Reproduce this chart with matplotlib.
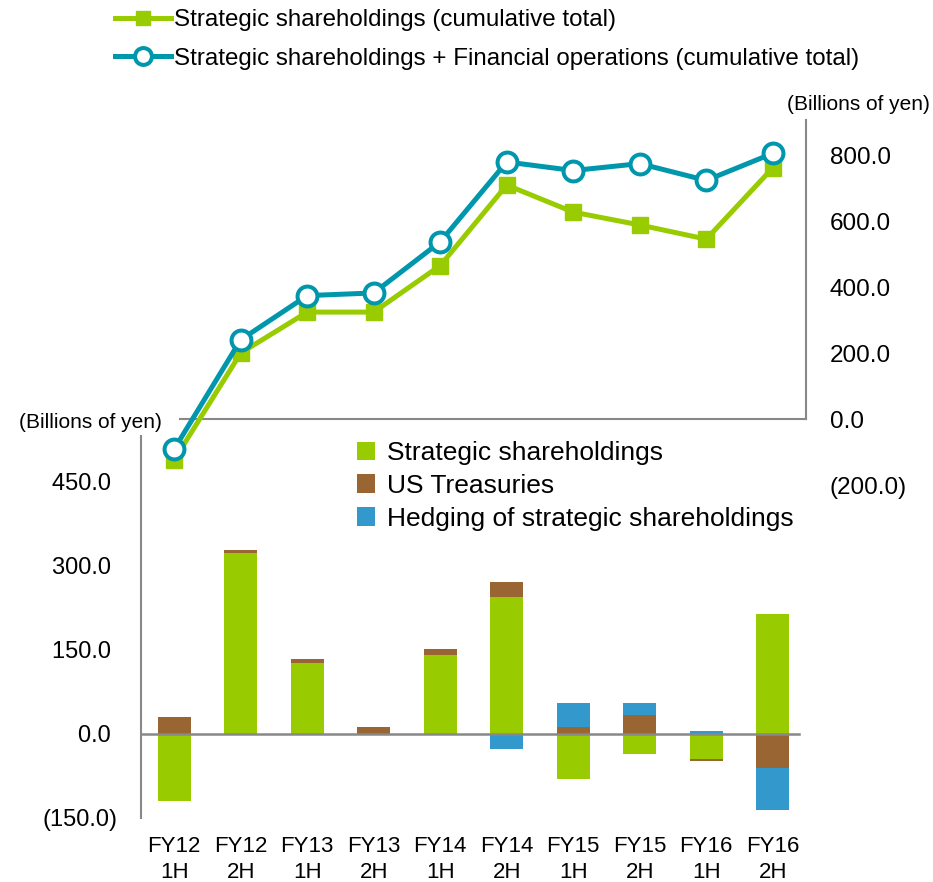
import matplotlib.pyplot as plt
import numpy as np
from matplotlib.ticker import FuncFormatter

plt.rcParams['font.family'] = ['Liberation Sans', 'DejaVu Sans']

periods = ['FY12\n1H', 'FY12\n2H', 'FY13\n1H', 'FY13\n2H', 'FY14\n1H',
           'FY14\n2H', 'FY15\n1H', 'FY15\n2H', 'FY16\n1H', 'FY16\n2H']

# half-year changes (billions of yen)
strategic = [-120, 323, 127, -2, 141, 244, -80, -35, -45, 214]
treasuries = [30, 6, 6, 12, 10, 28, 12, 33, -3, -60]
hedging = [0, 0, 0, 0, 0, -27, 43, 22, 5, -75]

# cumulative totals
cum_strategic = [-124, 200, 324, 324, 465, 709, 627, 588, 545, 761]
cum_total = [-91, 240, 374, 382, 537, 779, 753, 774, 723, 805]

green = '#99CC00'
brown = '#996633'
blue = '#3399CC'
teal = '#0097AC'
grey = '#888888'

fig = plt.figure(figsize=(9.33, 8.82), dpi=100)
ax = fig.add_axes([0.1511, 0.0726, 0.7128, 0.4331])
ax2 = fig.add_axes([0.1511, 0.4501, 0.7128, 0.4138])
ax2.patch.set_alpha(0)

x = np.arange(len(periods))

# stacked bars, positives stack up and negatives stack down
pos = np.zeros(len(x))
neg = np.zeros(len(x))
bars = []
for vals, col, lab in [(strategic, green, 'Strategic shareholdings'),
                       (treasuries, brown, 'US Treasuries'),
                       (hedging, blue, 'Hedging of strategic shareholdings')]:
    v = np.array(vals, dtype=float)
    bottom = np.where(v >= 0, pos, neg)
    b = ax.bar(x, v, 0.5, bottom=bottom, color=col, label=lab, zorder=2)
    bars.append(b)
    pos = pos + np.where(v > 0, v, 0)
    neg = neg + np.where(v < 0, v, 0)

ax.set_xlim(-0.5, 9.5)
ax.set_ylim(-150, 532)
ax.set_yticks([-150, 0, 150, 300, 450])
ax.yaxis.set_major_formatter(FuncFormatter(
    lambda v, p: f'({abs(v):.1f})' if v < 0 else f'{v:.1f} '))
ax.set_xticks(x)
ax.set_xticklabels(periods, fontsize=16, linespacing=1.3)
ax.tick_params(axis='x', length=0, pad=13)
ax.tick_params(axis='y', length=0, pad=17, labelsize=17)
for s in ['top', 'right', 'bottom']:
    ax.spines[s].set_visible(False)
ax.spines['left'].set_color(grey)
ax.spines['left'].set_linewidth(1.5)
ax.axhline(0, xmin=0, xmax=0.989, color=grey, lw=1.8, zorder=3)

# cumulative lines
ax2.plot(x, cum_strategic, color=green, lw=3.6, marker='s', ms=12,
         label='Strategic shareholdings (cumulative total)', zorder=3)
ax2.plot(x, cum_total, color=teal, lw=3.6, marker='o', ms=14.3,
         mfc='white', mec=teal, mew=2.9,
         label='Strategic shareholdings + Financial operations (cumulative total)',
         zorder=4)
ax2.set_xlim(-0.5, 9.5)
ax2.set_ylim(-200, 906)
ax2.set_yticks([-200, 0, 200, 400, 600, 800])
ax2.yaxis.set_major_formatter(FuncFormatter(
    lambda v, p: f'({abs(v):.1f})' if v < 0 else f'{v:.1f}'))
ax2.yaxis.tick_right()
ax2.tick_params(axis='y', length=0, pad=17, labelsize=17.5)
ax2.tick_params(axis='x', length=0, labelbottom=False)
for s in ['top', 'left']:
    ax2.spines[s].set_visible(False)
ax2.spines['bottom'].set_position(('data', 0))
ax2.spines['bottom'].set_bounds(0.09, 9.5)
ax2.spines['right'].set_bounds(0, 906)
for s in ['bottom', 'right']:
    ax2.spines[s].set_color(grey)
    ax2.spines[s].set_linewidth(1.5)

fig.text(0.097, 1 - 422 / 882, '(Billions of yen)', fontsize=15,
         ha='center', va='center')
fig.text(0.997, 1 - 104 / 882, '(Billions of yen)', fontsize=15,
         ha='right', va='center')

fig.legend(handles=ax2.get_lines(), loc='upper left',
           bbox_to_anchor=(0.1233, 0.9898), frameon=False, fontsize=17.4,
           handlelength=2.3, handletextpad=0.15, labelspacing=0.7,
           borderpad=0, borderaxespad=0, markerscale=0.85)
fig.legend(handles=bars, loc='upper left',
           bbox_to_anchor=(0.3826, 0.4999), frameon=False, fontsize=19,
           handlelength=0.7, handleheight=0.7, handletextpad=0.45,
           labelspacing=0.33, borderpad=0, borderaxespad=0)

plt.savefig('out.png', dpi=100)
